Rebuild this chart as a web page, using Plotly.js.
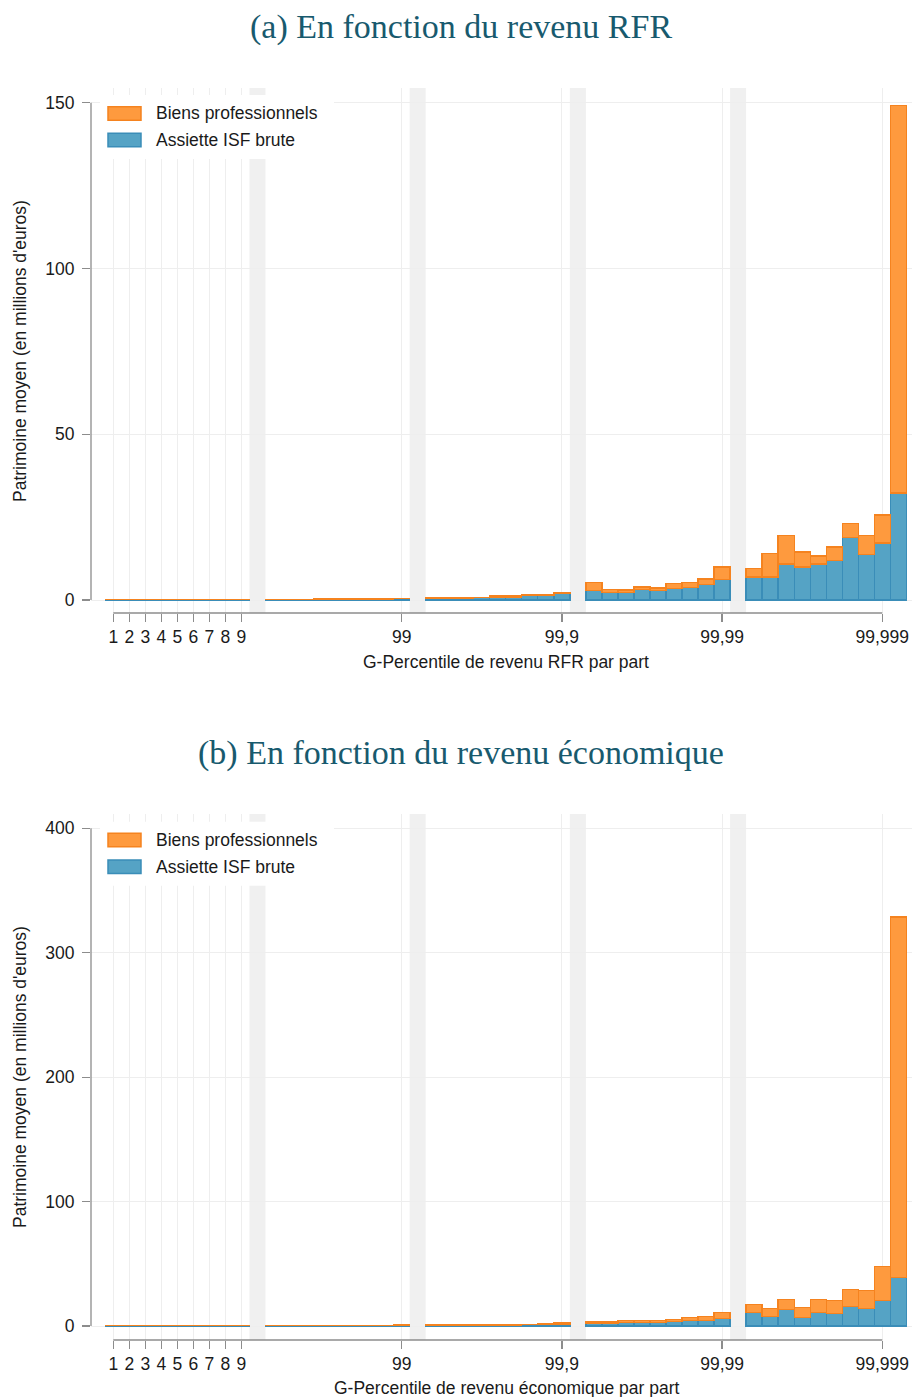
<!DOCTYPE html>
<html><head><meta charset="utf-8">
<script src="https://cdn.plot.ly/plotly-3.0.1.min.js"></script>
<style>html,body{margin:0;padding:0;background:#fff}</style>
</head><body>
<div id="chart" style="width:912px;height:1397px"></div>
<script>
// x positions (slot index on the category axis; gaps at 10, 20, 30, 40)
const slots = [1,2,3,4,5,6,7,8,9,
  11,12,13,14,15,16,17,18,19,
  21,22,23,24,25,26,27,28,29,
  31,32,33,34,35,36,37,38,39,
  41,42,43,44,45,46,47,48,49,50];
const tickVals = [1,2,3,4,5,6,7,8,9,19,29,39,49];
const tickText = ['1','2','3','4','5','6','7','8','9','99','99,9','99,99','99,999'];
const gapSlots = [10,20,30,40];

// (a) revenu RFR, millions d'euros
const assietteRFR = [0.15,0.15,0.15,0.15,0.15,0.15,0.15,0.18,0.2,
  0.22,0.22,0.22,0.25,0.25,0.25,0.28,0.3,0.5,
  0.5,0.5,0.5,0.8,0.7,0.7,1.4,1.4,1.9,
  2.8,2.3,2.3,3.1,2.8,3.4,3.7,4.6,6.1,
  6.9,6.9,10.9,10.0,10.9,11.9,18.9,13.7,17.2,32.3];
const biensRFR = [0.02,0.02,0.02,0.02,0.02,0.02,0.02,0.02,0.02,
  0.02,0.02,0.02,0.03,0.03,0.04,0.05,0.06,0.03,
  0.3,0.3,0.3,0.05,0.5,0.5,0.3,0.3,0.4,
  2.4,0.8,0.7,0.8,0.8,1.5,1.5,1.7,3.9,
  2.5,7.1,8.5,4.5,2.4,4.1,4.1,5.8,8.4,116.8];

// (b) revenu économique, millions d'euros
const assietteEco = [0.4,0.4,0.4,0.4,0.4,0.4,0.4,0.4,0.4,
  0.5,0.5,0.5,0.5,0.55,0.55,0.6,0.6,0.7,
  0.8,0.8,0.8,0.8,0.8,0.9,1.0,1.0,1.6,
  2.4,2.4,2.6,2.6,2.6,3.5,4.3,4.5,5.9,
  10.7,7.5,13.1,6.7,10.7,9.9,15.5,13.9,20.3,38.8];
const biensEco = [0.02,0.02,0.02,0.02,0.02,0.02,0.02,0.02,0.02,
  0.02,0.02,0.02,0.02,0.02,0.02,0.02,0.03,0.03,
  0.05,0.05,0.05,0.05,0.1,0.15,0.3,0.8,1.0,
  1.1,1.3,1.7,1.7,1.7,1.6,2.4,3.0,4.8,
  6.4,6.4,8.0,8.0,10.4,10.4,13.6,14.5,27.3,290.0];

const yTicksRFR = [0,50,100,150];
const yTicksEco = [0,100,200,300,400];

const seriesNames = ['Biens professionnels','Assiette ISF brute'];
const titles = ['(a) En fonction du revenu RFR','(b) En fonction du revenu économique'];
const xTitles = ['G-Percentile de revenu RFR par part','G-Percentile de revenu économique par part'];
const yTitle = "Patrimoine moyen (en millions d'euros)";

// styling
const W = 912, H = 1397;
const px = p => p / W;
const py = p => 1 - p / H;
const ORANGE = '#fe9a3e', ORANGE_LINE = '#f5831f';
const BLUE = '#55a3c5', BLUE_LINE = '#3a8db8';
const AXIS = '#8c8c8c', GRID = '#eeeeee', BAND = '#f0f0f0';
const SANS = 'Liberation Sans, Arial, sans-serif';
const SERIF = 'Liberation Serif, Times New Roman, serif';
const TITLE_COL = '#185a6e';
const TXT = '#1a1a1a';

function barTrace(y, name, fill, line, xa, ya) {
  return {type:'bar', x: slots, y: y, name: name, xaxis: xa, yaxis: ya,
    width: 1, marker:{color: fill, line:{color: line, width: 1.3}},
    showlegend:false, hoverinfo:'skip'};
}

const data = [
  barTrace(assietteRFR, seriesNames[1], BLUE, BLUE_LINE, 'x', 'y'),
  barTrace(biensRFR, seriesNames[0], ORANGE, ORANGE_LINE, 'x', 'y'),
  barTrace(assietteEco, seriesNames[1], BLUE, BLUE_LINE, 'x2', 'y2'),
  barTrace(biensEco, seriesNames[0], ORANGE, ORANGE_LINE, 'x2', 'y2')
];

const xDomain = [px(91), 1];
const xRange = [-0.392, 50.856];
function xAxis(anchor) {
  return {domain: xDomain, range: xRange, anchor: anchor, tickmode:'array',
    tickvals: tickVals, ticktext: tickText, ticks:'outside', ticklen: 8, tickwidth: 1.3,
    tickcolor: AXIS, showline:false, showgrid:true, gridcolor: GRID, gridwidth: 1,
    zeroline:false, tickfont:{family: SANS, size: 17.5, color: TXT}, fixedrange:true};
}
function yAxis(anchor, domain, range, ticks) {
  return {domain: domain, range: range, anchor: anchor, tickmode:'array',
    tickvals: ticks, ticks:'outside', ticklen: 8, tickwidth: 1.3, tickcolor: AXIS,
    showline:false, showgrid:true, gridcolor: GRID, gridwidth: 1, zeroline:false,
    tickfont:{family: SANS, size: 17.5, color: TXT}, ticklabelstandoff: 4, fixedrange:true};
}

const panels = [
  {xref:'x', yref:'y', top: 88, bottom: 613, yTop: 150, legTop: 95, sw: [113.5, 140]},
  {xref:'x2', yref:'y2', top: 814, bottom: 1340, yTop: 400, legTop: 821.7, sw: [840, 866.7]}
];

const shapes = [];
const annotations = [];
panels.forEach((p, i) => {
  gapSlots.forEach(g => shapes.push({type:'rect', xref: p.xref, yref:'paper',
    x0: g - 0.5, x1: g + 0.5, y0: py(p.bottom), y1: py(p.top),
    fillcolor: BAND, line:{width:0}, layer:'below'}));
  // axis lines
  shapes.push({type:'line', xref:'paper', yref: p.yref, x0: px(91), x1: px(91),
    y0: 0, y1: p.yTop, line:{color: AXIS, width: 1.3}});
  shapes.push({type:'line', xref: p.xref, yref:'paper', x0: tickVals[0], x1: tickVals[tickVals.length-1],
    y0: py(p.bottom), y1: py(p.bottom), line:{color: AXIS, width: 1.3}});
  // legend box
  shapes.push({type:'rect', xref:'paper', yref:'paper', x0: px(100), x1: px(334),
    y0: py(p.legTop + 64), y1: py(p.legTop), fillcolor:'#ffffff', line:{width:0}, layer:'above'});
  const cols = [[ORANGE, ORANGE_LINE],[BLUE, BLUE_LINE]];
  p.sw.forEach((c, k) => {
    shapes.push({type:'rect', xref:'paper', yref:'paper', x0: px(108), x1: px(141),
      y0: py(c + 6.8), y1: py(c - 6.8), fillcolor: cols[k][0],
      line:{color: cols[k][1], width: 1.5}, layer:'above'});
    annotations.push({xref:'paper', yref:'paper', x: px(154), y: py(c), xanchor:'left', yanchor:'middle',
      text: seriesNames[k], showarrow:false, font:{family: SANS, size: 17.5, color: TXT}});
  });
});

annotations.push({xref:'paper', yref:'paper', x: px(461), y: py(27), xanchor:'center', yanchor:'middle',
  text: titles[0], showarrow:false, font:{family: SERIF, size: 34, color: TITLE_COL}});
annotations.push({xref:'paper', yref:'paper', x: px(461), y: py(753), xanchor:'center', yanchor:'middle',
  text: titles[1], showarrow:false, font:{family: SERIF, size: 34, color: TITLE_COL}});
annotations.push({xref:'paper', yref:'paper', x: px(506), y: py(662), xanchor:'center', yanchor:'middle',
  text: xTitles[0], showarrow:false, font:{family: SANS, size: 17.5, color: TXT}});
annotations.push({xref:'paper', yref:'paper', x: px(506), y: py(1388), xanchor:'center', yanchor:'middle',
  text: xTitles[1], showarrow:false, font:{family: SANS, size: 17.5, color: TXT}});
annotations.push({xref:'paper', yref:'paper', x: px(20), y: py(351), xanchor:'center', yanchor:'middle',
  text: yTitle, textangle: -90, showarrow:false, font:{family: SANS, size: 17.5, color: TXT}});
annotations.push({xref:'paper', yref:'paper', x: px(20), y: py(1077), xanchor:'center', yanchor:'middle',
  text: yTitle, textangle: -90, showarrow:false, font:{family: SANS, size: 17.5, color: TXT}});

const layout = {
  width: W, height: H, margin:{l:0, r:0, t:0, b:0},
  paper_bgcolor:'#ffffff', plot_bgcolor:'#ffffff',
  barmode:'stack', bargap: 0, showlegend:false,
  xaxis: xAxis('y'),
  yaxis: yAxis('x', [py(613), py(88)], [-3.921, 154.434], yTicksRFR),
  xaxis2: xAxis('y2'),
  yaxis2: yAxis('x2', [py(1340), py(814)], [-11.25, 411.49], yTicksEco),
  shapes: shapes, annotations: annotations
};

Plotly.newPlot('chart', data, layout, {displayModeBar:false, staticPlot:true});
</script>
</body></html>
